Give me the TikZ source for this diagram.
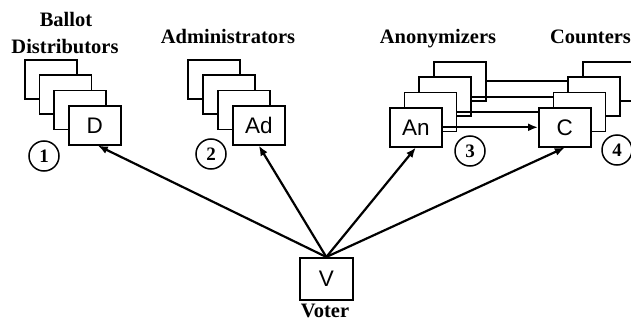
\documentclass[tikz,border=0pt]{standalone}
\usepackage{fontspec}
\setmainfont{Liberation Serif}
\newfontfamily\sansfnt{Liberation Sans}
\usetikzlibrary{arrows.meta}
\pgfdeclarelayer{backl}
\pgfdeclarelayer{midl}
\pgfsetlayers{backl,midl,main}
\tikzset{
  stackbox/.style={draw, fill=white, line width=1.6pt, minimum width=52pt, minimum height=39pt,
    inner sep=0pt, anchor=north west, font=\sansfnt\fontsize{22.5}{26}\selectfont},
  title/.style={anchor=base, inner sep=0pt, font=\bfseries\fontsize{20.5}{24}\selectfont},
  num/.style={draw, circle, line width=1.5pt, minimum size=30pt, inner sep=0pt,
    font=\bfseries\fontsize{19}{22}\selectfont},
  conn/.style={line width=2.2pt},
  arr/.style={line width=2.2pt, -{Latex[length=10pt,width=8pt]}}
}
\begin{document}
\begin{tikzpicture}[x=1pt,y=-1pt]
\useasboundingbox (0,0) rectangle (631,321);
\clip (0,0) rectangle (631,321);
% titles
\node[title] (t1) at (66,27) {Ballot};
\node[title] (t2) at (65,53) {Distributors};
\node[title] (t3) at (228,44) {Administrators};
\node[title] (t4) at (438,44) {Anonymizers};
\node[title] (t5) at (590.5,44) {Counters};
\node[title] (t6) at (325,317) {Voter};
% Ballot distributors
\node[stackbox] (d4) at (24,59) {};
\node[stackbox] (d3) at (38.7,74.3) {};
\node[stackbox] (d2) at (53.3,89.7) {};
\node[stackbox] (d1) at (68,105) {D};
% Administrators
\node[stackbox] (a4) at (187,59) {};
\node[stackbox] (a3) at (202,74.3) {};
\node[stackbox] (a2) at (217,89.7) {};
\node[stackbox] (a1) at (232,105) {Ad};
% Anonymizers
\begin{pgfonlayer}{backl}
\node[stackbox] (n4) at (433,61) {};
\node[stackbox] (n3) at (418.3,76.3) {};
\node[stackbox] (n2) at (403.7,91.7) {};
\node[stackbox] (n1) at (389,107) {An};
\end{pgfonlayer}
% Counters
\node[stackbox] (c4) at (582,61) {};
\node[stackbox] (c3) at (567.3,76.3) {};
\node[stackbox] (c2) at (552.7,91.7) {};
\node[stackbox] (c1) at (538,107) {C};
% connectors between stacks
\begin{pgfonlayer}{midl}
\draw[conn] (n4.east) -- (c4.west);
\draw[conn] (n3.east) -- (c3.west);
\draw[conn] (n2.east) -- (c2.west);
\draw[arr] (n1.east) -- (c1.west);
\end{pgfonlayer}
% voter
\node[stackbox, minimum width=53pt, minimum height=42pt] (v) at (299,257) {V};
% numbers
\node[num] (k1) at (44,156) {1};
\node[num] (k2) at (211,154) {2};
\node[num] (k3) at (470,151) {3};
\node[num] (k4) at (617,150) {4};
% arrows from voter
\draw[arr] (v.north) -- ([xshift=3pt]d1.south);
\draw[arr] (v.north) -- (a1.south);
\draw[arr] (v.north) -- (n1.south);
\draw[arr] (v.north) -- (c1.south);
\end{tikzpicture}
\end{document}
